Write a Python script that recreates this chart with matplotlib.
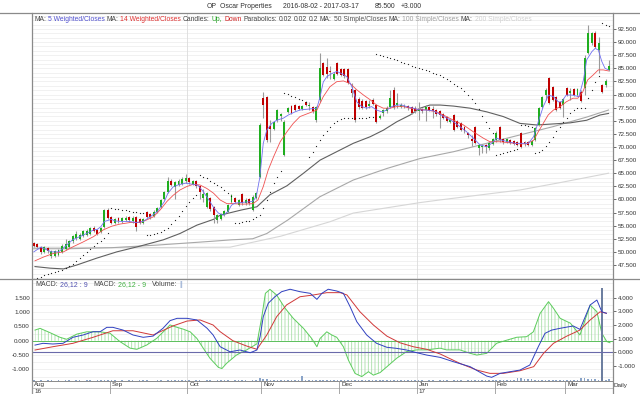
import matplotlib
matplotlib.use('Agg')
import matplotlib.pyplot as plt
from matplotlib.lines import Line2D
import numpy as np
import pandas as pd

plt.rcParams['font.family'] = ['Liberation Sans', 'DejaVu Sans']
plt.rcParams['hatch.linewidth'] = 0.6

# ---------------- data ----------------
dates = pd.bdate_range('2016-08-02', '2017-03-17')
year_labels = {'Aug': '16', 'Jan': '17'}
ticker, company = 'OP', 'Oscar Properties'

opens = [51.6, 51.5, 51.0, 50.0, 50.8, 49.2, 49.3, 49.5, 50.0, 50.5, 51.0, 52.0, 52.6, 52.5, 53.0, 53.3, 53.5, 54.6, 54.2, 53.8, 54.8, 58.0,
         56.6, 55.6, 56.4, 55.8, 56.0, 56.6, 55.9, 56.6, 56.3, 55.6, 57.6, 57.2, 56.8, 57.6, 58.5, 60.0, 61.5, 63.6, 62.3, 62.8, 63.0, 63.5,
         64.0, 63.0, 63.6, 62.5, 60.3, 58.5, 60.3, 58.5, 56.0, 56.3, 57.0, 57.6, 59.6, 60.2, 59.0, 61.0, 59.3, 60.1, 58.0, 60.3, 64.3,
         79.3, 79.5, 74.0, 73.5, 75.1, 76.0, 68.5, 76.7, 77.8, 78.0, 77.9, 77.2, 78.5, 77.8, 77.6, 75.1, 78.9, 86.0, 85.2, 84.5, 83.0, 86.0,
         84.8, 84.8, 84.8, 81.0, 80.9, 79.2, 78.8, 78.8, 77.8, 79.0, 78.0, 75.5, 76.5, 76.8, 77.6, 80.9, 78.0, 77.6, 77.7, 77.8, 77.6, 77.5,
         76.8, 77.3, 77.0, 77.6, 77.2, 77.0, 76.8, 76.3, 75.8, 74.8, 76.1, 75.0, 74.5, 73.8, 72.6, 71.6, 73.8, 69.8, 70.0, 70.3, 69.9, 70.6,
         71.3, 73.8, 71.6, 71.0, 71.4, 71.2, 71.0, 72.7, 70.9, 70.9, 70.3, 71.3, 74.2, 77.6, 79.9, 83.2, 81.4, 79.5, 78.6, 78.0,
         81.2, 80.3, 81.0, 79.9, 80.5, 81.2, 88.0, 89.8, 91.7, 88.5, 81.8, 81.8, 84.7]
highs = [51.8, 51.7, 51.2, 51.2, 51.0, 50.4, 50.3, 50.5, 51.5, 52.5, 52.2, 53.2, 54.0, 53.6, 54.1, 54.3, 54.8, 54.9, 54.4, 54.8, 58.2, 58.3,
         56.8, 56.5, 56.6, 56.6, 56.8, 56.9, 56.8, 56.9, 56.5, 56.5, 57.8, 57.4, 57.9, 58.6, 60.0, 61.7, 64.3, 63.9, 63.5, 63.9, 64.3, 64.8,
         64.2, 63.8, 63.8, 62.6, 62.0, 61.5, 60.5, 58.8, 57.3, 57.5, 58.0, 59.1, 61.0, 60.5, 60.1, 61.2, 60.2, 60.3, 60.8, 61.5, 74.5,
         80.5, 79.8, 75.1, 75.0, 77.3, 76.5, 75.2, 77.6, 78.0, 78.2, 78.1, 78.0, 78.7, 78.6, 77.8, 77.8, 87.9, 86.3, 86.9, 85.5, 84.3, 86.3,
         85.0, 85.0, 85.0, 82.2, 81.0, 79.5, 79.2, 79.0, 79.0, 79.3, 78.2, 76.3, 77.2, 77.8, 80.9, 81.5, 80.3, 78.3, 78.2, 78.0, 77.8, 77.8,
         78.6, 77.5, 78.0, 77.9, 77.8, 77.2, 77.0, 76.5, 76.0, 75.4, 76.3, 75.2, 74.7, 74.0, 72.9, 72.2, 74.0, 70.6, 70.6, 70.5, 71.0, 71.7,
         73.0, 74.0, 71.8, 71.8, 71.6, 71.4, 71.2, 72.9, 71.2, 71.1, 71.3, 73.8, 77.6, 79.7, 81.3, 83.4, 81.6, 79.7, 78.8, 79.4,
         81.4, 81.2, 81.2, 81.2, 80.9, 87.5, 93.2, 92.0, 92.2, 91.0, 82.0, 83.0, 86.5]
lows = [51.0, 50.8, 49.6, 49.8, 49.7, 48.8, 49.0, 49.2, 49.8, 50.3, 50.8, 51.6, 52.3, 52.2, 52.8, 53.0, 53.2, 53.8, 53.2, 53.6, 54.6, 56.2,
        55.3, 55.3, 55.6, 55.5, 55.8, 55.7, 55.6, 53.9, 55.3, 55.4, 56.4, 56.3, 56.6, 57.4, 58.3, 59.8, 61.3, 62.5, 60.0, 62.5, 62.8, 63.2,
        63.0, 62.8, 62.2, 60.0, 59.5, 58.3, 57.8, 55.5, 55.6, 56.0, 56.8, 57.4, 59.4, 59.3, 58.8, 59.0, 59.0, 59.0, 57.8, 60.0, 64.0,
        75.6, 71.0, 70.9, 73.3, 74.8, 75.0, 68.3, 76.5, 76.3, 76.8, 77.0, 77.0, 77.8, 77.0, 76.5, 74.8, 78.5, 83.5, 83.1, 83.0, 82.8, 83.8,
        83.5, 83.2, 82.0, 79.5, 74.8, 77.3, 77.2, 77.3, 77.5, 78.0, 74.5, 75.3, 76.0, 76.5, 77.4, 77.3, 77.5, 77.4, 77.4, 77.0, 76.3, 76.5,
        75.1, 76.5, 75.0, 76.8, 75.5, 76.0, 73.6, 75.3, 74.8, 74.6, 73.0, 73.6, 73.0, 72.7, 71.8, 70.2, 70.5, 68.4, 68.8, 68.8, 69.5, 70.3,
        71.0, 71.0, 70.6, 70.8, 70.5, 70.3, 70.1, 69.8, 70.2, 70.2, 70.1, 71.1, 74.0, 77.4, 79.0, 78.2, 78.8, 76.8, 77.2, 75.8,
        79.7, 79.0, 79.7, 79.7, 78.6, 80.0, 87.8, 89.5, 88.8, 84.1, 80.3, 81.5, 84.5]
closes = [51.2, 51.0, 50.0, 50.9, 50.2, 50.2, 50.1, 50.3, 51.2, 51.5, 52.0, 53.0, 53.5, 53.3, 53.9, 54.0, 54.6, 54.0, 53.4, 54.5, 58.0, 56.5,
          55.6, 56.2, 55.9, 56.4, 56.5, 56.0, 56.5, 54.8, 55.6, 56.2, 56.7, 56.6, 57.6, 58.4, 59.8, 61.5, 63.6, 62.8, 63.3, 63.6, 63.9, 64.0,
          63.4, 63.5, 62.5, 61.5, 61.0, 61.3, 58.2, 57.0, 57.0, 57.3, 57.8, 58.9, 60.8, 59.6, 59.8, 59.3, 59.9, 59.3, 60.5, 61.2, 74.2,
          78.0, 71.3, 73.5, 74.8, 77.0, 76.2, 74.8, 77.4, 76.5, 77.0, 77.3, 77.8, 78.0, 78.0, 76.8, 77.6, 85.0, 83.7, 84.0, 84.3, 84.0, 84.0,
          83.8, 83.5, 82.2, 80.3, 75.1, 77.6, 77.5, 77.6, 78.2, 78.2, 74.8, 76.0, 77.0, 77.5, 79.3, 77.6, 78.4, 78.0, 77.9, 77.5, 76.5, 76.8,
          77.3, 76.9, 77.6, 77.0, 76.9, 76.2, 76.1, 75.5, 75.0, 75.2, 73.2, 73.8, 73.3, 73.0, 72.3, 71.2, 70.8, 70.4, 70.2, 70.0, 70.8, 71.5,
          72.7, 71.3, 70.9, 71.6, 70.7, 70.6, 70.3, 70.0, 70.5, 70.4, 71.1, 73.6, 77.4, 79.5, 80.8, 78.4, 79.0, 77.0, 77.4, 79.2,
          79.9, 80.6, 79.9, 81.0, 78.8, 86.9, 91.7, 91.7, 89.0, 89.8, 80.5, 82.5, 85.5]

# parabolic SAR, one value per day
sar = [44.9, 45.1, 45.3, 45.5, 45.7, 45.9, 46.1, 46.3, 46.6, 46.9, 47.3, 47.7, 48.2, 48.8, 49.4, 50.0, 50.6, 51.1, 51.6, 52.1, 52.7, 53.6,
       58.3, 58.2, 58.1, 58.0, 57.9, 57.8, 57.7, 57.6, 57.5, 57.4,
       53.2, 53.3, 53.4, 53.6, 53.8, 54.1, 54.6, 55.3, 56.0, 56.9, 57.8, 58.7, 59.5, 60.2, 60.8,
       64.6, 64.3, 64.0, 63.6, 63.2, 62.8, 62.3, 61.8, 61.2, 60.6,
       55.5, 55.6, 55.7, 55.8, 55.9, 56.2, 56.6, 57.0,
       58.4, 59.9, 61.5, 63.1, 64.3, 65.5,
       80.3, 80.1, 79.8, 79.5, 79.2, 78.9, 78.6,
       68.0, 69.1, 70.2, 71.3, 72.3, 73.1, 73.9, 74.5, 75.0, 75.3, 75.5, 75.5, 75.5, 75.6, 75.6, 75.6, 75.6, 75.7, 75.7,
       87.7, 87.5, 87.3, 87.1, 86.9, 86.7, 86.5, 86.3, 86.0, 85.8, 85.5, 85.3, 85.0, 84.8, 84.6, 84.4, 84.2, 84.0, 83.7, 83.3,
       82.9, 82.5, 82.1, 81.7, 81.3, 80.7, 80.0, 79.2, 78.3, 77.2, 76.0, 74.7, 73.6, 72.7,
       68.5, 68.7, 68.9, 69.1, 69.3, 69.5, 69.7,
       74.2, 74.1, 74.0, 73.9,
       68.9, 69.1, 69.5, 70.1, 71.0, 72.0, 73.0, 73.9, 74.8, 75.6, 76.4, 77.0, 77.4, 77.4, 77.4, 79.3, 80.9, 82.3, 83.6,
       93.6, 93.3, 93.0]

# moving averages (day position, value)
wma5_t = [0, 2, 5, 7, 8, 11, 14, 17, 18, 19, 20, 22, 23, 25, 27, 29, 31, 33, 35, 37, 38, 39.5, 41, 43, 45, 46.5, 48, 49.5, 51, 52.3,
          53.7, 55, 56, 57, 60, 62, 63, 64, 65, 66, 67.4, 68.8, 70.7, 72.1, 74, 75.4, 80.2, 81.1, 82, 83, 84.4, 85.8, 87.2, 88.7,
          90.1, 91.5, 92.9, 94.3, 95.7, 97.1, 98.6, 100, 101.4, 102.8, 104.2, 105.6, 107.5, 109.4, 111.3, 113.2, 114.6, 117, 118.9,
          120.7, 122.6, 124.5, 126.4, 128.3, 129.7, 131.1, 132.6, 134.4, 136.3, 138.2, 140.1, 141.6, 142.9, 144.3, 145.8, 147.2,
          148.6, 149.5, 150.8, 152.5, 154.4, 155.7, 156.6, 158.1, 159, 159.9, 160.9, 161.8, 162.8]
wma5_v = [50.0, 50.9, 50.0, 50.0, 50.5, 52.3, 53.2, 54.2, 54.3, 54.8, 55.8, 56.2, 55.9, 55.8, 55.8, 55.6, 55.8, 56.7, 57.7, 59.6,
          61.2, 62.4, 62.8, 63.1, 62.9, 62.7, 61.5, 60.0, 58.4, 57.4, 57.0, 57.7, 58.9, 59.3, 59.5, 59.6, 60.5, 64.1, 70.7, 73.2,
          74.5, 75.1, 75.5, 76.1, 76.7, 77.05, 77.4, 79.6, 82.4, 83.4, 84.0, 84.4, 84.0, 83.4, 81.5, 78.6, 77.7, 77.4, 77.7, 77.05,
          76.7, 77.05, 77.7, 78.0, 78.0, 77.7, 77.4, 77.05, 77.05, 76.9, 76.4, 75.5, 74.8, 73.9, 72.9, 71.7, 70.4, 70.05, 70.7,
          71.7, 71.3, 71.0, 70.7, 70.7, 70.7, 72.0, 74.8, 77.7, 79.9, 79.6, 78.6, 78.6, 79.9, 79.9, 79.6, 82.8, 86.6, 88.2, 88.8,
          88.5, 86.3, 85.0, 84.7]

wma14_t = [0.35, 2.7, 5.5, 8.4, 11.2, 14.0, 16.9, 19.7, 22.1, 24.4, 27.3, 30.1, 32.0, 33.9, 35.8, 37.7, 39.5, 41.4, 43.3, 45.2,
           47.1, 49.0, 50.9, 52.8, 54.7, 56.4, 59.3, 62.1, 63.5, 65.0, 66.4, 67.9, 69.8, 71.7, 73.5, 75.4, 80.2, 82.0, 83.9, 85.8,
           87.7, 89.6, 91.5, 93.4, 95.3, 97.1, 99.0, 100.9, 102.8, 104.7, 106.6, 108.5, 111.3, 114.1, 116.0, 118.9, 121.7, 124.5,
           127.3, 129.2, 132.1, 134.9, 137.7, 139.6, 141.6, 142.9, 144.3, 145.7, 147.2, 149.1, 150.8, 152.7, 154.1, 155.5, 156.9,
           158.4, 159.9, 161.3, 162.8]
wma14_v = [48.3, 49.0, 49.7, 50.0, 51.0, 51.9, 52.9, 54.2, 54.9, 55.3, 55.6, 55.6, 56.1, 56.7, 58.0, 59.6, 60.8, 61.8, 62.45, 62.9,
           62.75, 62.1, 61.2, 59.9, 59.2, 59.2, 59.1, 59.2, 59.9, 62.45, 65.6, 68.1, 71.0, 72.9, 74.5, 75.8, 77.05, 79.6, 81.5, 82.45,
           82.6, 82.1, 80.9, 79.9, 79.0, 78.0, 77.4, 77.4, 77.7, 77.7, 77.4, 77.2, 77.05, 76.7, 76.1, 75.1, 74.2, 72.9, 71.7, 71.0,
           71.0, 70.8, 70.6, 70.6, 71.3, 72.9, 74.5, 76.1, 77.05, 77.7, 78.6, 79.3, 79.3, 80.5, 82.8, 83.7, 84.7, 84.7, 84.5]

sma50_t = [0.35, 4.6, 8.4, 12.2, 17.8, 23.5, 30.1, 36.7, 41.4, 46.2, 50.9, 52.8, 58.9, 63.2, 66.9, 71.7, 76.4, 81.1, 85.8, 90.5,
           95.3, 99.0, 102.8, 106.6, 109.4, 112.2, 115.1, 118.9, 123.6, 128.3, 133.0, 137.7, 142.5, 147.2, 151.9, 156.6, 160.4, 162.8]
sma50_v = [47.2, 46.9, 46.75, 47.5, 48.8, 50.0, 51.1, 52.3, 53.5, 55.1, 56.2, 57.0, 58.0, 58.6, 60.9, 62.6, 65.0, 67.5, 69.1, 70.7,
           71.96, 73.2, 74.8, 76.1, 77.4, 78.0, 78.0, 77.8, 77.4, 76.7, 75.8, 74.5, 74.2, 74.4, 74.6, 75.1, 76.1, 76.4]

sma100_t = [0, 10, 22, 35, 50, 56, 62, 66, 72, 81, 90.5, 100, 109.4, 118.9, 128.3, 137.7, 147.2, 156.6, 162.8]
sma100_v = [50.6, 50.6, 50.8, 51.3, 52.0, 52.3, 52.5, 53.5, 56.1, 60.5, 63.7, 65.9, 67.8, 69.1, 70.7, 72.3, 73.9, 75.7, 77.05]

sma200_t = [0, 30, 55.6, 70, 83.9, 90.5, 109.4, 115, 137.7, 149, 162.8]
sma200_v = [50.9, 50.8, 50.9, 53.0, 55.75, 57.4, 59.4, 59.9, 61.8, 63.2, 65.0]

# MACD lines (right scale) and histogram (left scale)
macd_t = [0.35, 2.6, 5.4, 8.3, 11.1, 14.0, 16.8, 18.8, 20.7, 22.4, 25.3, 28.1, 31.0, 33.8, 36.6, 38.6, 40.6, 43.4, 46.2, 49.1,
          50.8, 52.2, 52.8, 55.6, 58.4, 61.3, 63.2, 64.1, 65.0, 66.4, 68.3, 70.2, 72.6, 75.4, 78.3, 80.2, 81.6, 83.4, 85.8, 87.7,
          89.6, 91.5, 94.3, 97.1, 100.0, 102.8, 105.6, 108.5, 111.3, 115.1, 118.9, 123.6, 128.3, 129.7, 132.1, 134.9, 137.7, 140.5,
          142.9, 144.8, 146.7, 149.1, 152.8, 154.7, 157.6, 159.5, 160.9, 162.2]
macd_v = [0.53, 0.66, 0.61, 0.66, 1.10, 1.27, 1.51, 1.51, 1.83, 1.83, 1.63, 1.27, 1.10, 1.19, 1.76, 2.32, 2.49, 2.49, 2.37, 1.76,
          1.27, 0.66, 0.41, 0.04, 0.17, -0.03, 0.17, 1.14, 2.61, 3.59, 4.07, 4.44, 4.62, 4.44, 4.32, 3.88, 4.32, 4.62, 4.49, 4.32,
          3.34, 2.24, 1.27, 0.66, 0.37, 0.29, 0.17, -0.03, -0.20, -0.37, -0.69, -1.05, -1.74, -1.83, -1.54, -1.42, -1.30, -0.93,
          0.41, 1.39, 1.63, 1.76, 1.93, 1.68, 3.47, 3.83, 2.97, 2.86]
signal_t = [0.35, 5.4, 11.1, 16.8, 22.4, 28.1, 33.8, 39.4, 43.4, 47.1, 50.8, 52.8, 56.4, 60.3, 63.2, 66.0, 68.8, 71.6, 75.4, 79.2,
            83.0, 86.8, 88.7, 92.4, 96.2, 100.0, 103.7, 107.5, 111.3, 115.1, 120.7, 125.5, 129.2, 133.0, 137.7, 141.6, 144.4, 147.2,
            151.0, 154.7, 157.6, 160.4, 162.2]
signal_v = [0.17, 0.41, 0.66, 1.10, 1.58, 1.58, 1.27, 1.93, 2.29, 2.37, 2.00, 1.51, 0.85, 0.46, 0.22, 1.27, 2.61, 3.47, 4.07, 4.20,
            4.37, 4.37, 4.20, 2.97, 2.00, 1.19, 0.70, 0.41, 0.22, -0.12, -0.81, -1.30, -1.54, -1.54, -1.35, -1.05, -0.07, 0.66,
            1.19, 1.63, 2.37, 2.97, 2.86]
hist_t = [0.35, 1.8, 4.6, 7.4, 9.3, 12.2, 15.0, 18.8, 21.6, 24.4, 27.3, 29.2, 32.0, 34.8, 36.7, 38.6, 40.5, 42.4, 44.3, 46.2, 48.0,
          49.9, 52.3, 53.3, 54.6, 57.4, 60.3, 63.2, 64.6, 65.6, 66.9, 68.8, 71.2, 73.5, 76.4, 78.7, 80.2, 81.1, 83.0, 84.4, 85.8,
          87.7, 89.1, 91.0, 92.9, 94.8, 96.2, 98.1, 100.0, 102.8, 105.6, 108.5, 111.3, 115.1, 116.9, 120.7, 123.6, 125.5, 128.3,
          131.1, 134.0, 136.8, 139.6, 141.5, 143.4, 145.8, 147.2, 149.1, 152.0, 154.7, 157.6, 159.5, 160.9, 162.3, 163.2]
hist_v = [0.37, 0.43, 0.28, 0.12, 0.05, 0.23, 0.31, 0.31, 0.26, -0.03, -0.26, -0.30, -0.15, 0.08, 0.31, 0.55, 0.47, 0.40, 0.31,
          0.08, -0.26, -0.61, -0.93, -0.97, -0.79, -0.50, -0.32, -0.11, 0.84, 1.65, 1.79, 1.59, 1.13, 0.78, 0.43, 0.08, -0.21,
          0.08, 0.31, 0.20, 0.12, -0.21, -0.67, -1.14, -1.25, -1.08, -1.20, -1.11, -0.91, -0.61, -0.38, -0.32, -0.32, -0.26,
          -0.32, -0.32, -0.44, -0.50, -0.44, -0.09, 0.02, 0.12, 0.14, 0.31, 0.95, 1.36, 1.13, 0.78, 0.61, 0.20, 1.24, 1.01, 0.26,
          -0.03, -0.07]

volume = [30, 0, 30, 0, 30, 30, 0, 30, 0, 30, 30, 0, 30, 30, 0, 30, 30, 0, 30, 30, 45, 30,
          30, 30, 0, 30, 0, 30, 30, 0, 30, 30, 30, 0, 0, 30, 30, 0, 30, 30, 30, 40, 40, 30,
          30, 0, 30, 30, 0, 30, 30, 0, 30, 30, 30, 30, 0, 30, 30, 30, 30, 0, 30, 30, 105,
          60, 60, 45, 45, 45, 45, 45, 30, 30, 30, 30, 150, 45, 45, 45, 30, 30, 30, 30, 30, 30, 30,
          30, 30, 30, 30, 30, 30, 30, 30, 30, 30, 30, 30, 30, 30, 30, 30, 30, 30, 30, 30, 30, 30,
          30, 30, 0, 30, 30, 0, 30, 30, 30, 0, 30, 30, 30, 0, 30, 30, 30, 30, 30, 30, 30, 30,
          30, 30, 30, 30, 30, 30, 105, 105, 75, 75, 75, 45, 45, 45, 45, 45, 45, 45, 45, 45,
          30, 30, 30, 45, 105, 105, 60, 60, 60, 45, 2790, 30, 75]

last_close, change = 85.5, 3.0

# ---------------- figure ----------------
W, H = 640, 394
fig = plt.figure(figsize=(W / 100, H / 100), dpi=100, facecolor='white')
renderer = fig.canvas.get_renderer()


def fx(x):
    return x / W


def fy(y):
    return 1 - y / H


def text_w(s, size):
    tt = fig.text(0.3, 0.5, s, fontsize=size)
    w = tt.get_window_extent(renderer).width
    tt.remove()
    return w


def seq_text(pieces, x0, x1, y, base=5.0):
    """Place coloured pieces one after another, fitted to span x0..x1 (pixels)."""
    gaps = [g for _, _, g in pieces]
    size = base
    for _ in range(5):
        sp = (text_w('a a', size) - text_w('aa', size))
        total = sum(text_w(s, size) for s, _, _ in pieces) + sp * sum(gaps[:-1])
        size *= (x1 - x0) / total
    sp = text_w('a a', size) - text_w('aa', size)
    x = x0
    for s, col, g in pieces:
        fig.text(fx(x), fy(y), s, fontsize=size, color=col, va='center', ha='left')
        x += text_w(s, size) + sp * g


L, R = 32, 612.6
ax = fig.add_axes([fx(L), fy(279), (R - L) / W, (279 - 13) / H])
axm = fig.add_axes([fx(L), fy(381), (R - L) / W, (381 - 279) / H])

n = len(dates)
t = np.arange(n)
xlim = (-0.5, 163.95)
month_starts = [i for i in range(n) if i == 0 or dates[i].month != dates[i - 1].month]

GREEN, RED = '#1fae1f', '#c00000'
o, h, l, c = map(np.array, (opens, highs, lows, closes))

# main panel
ax.set_xlim(*xlim)
ax.set_ylim(44.83, 95.55)
for yv in np.arange(45.0, 95.6, 2.5 / 3):
    ax.axhline(yv, color='#ececec', lw=0.5, zorder=0)
for ms in month_starts:
    if dates[ms].month in (10, 1):
        ax.axvline(ms - 0.5, color='#dcdcdc', lw=0.6, zorder=0)

ax.plot(sma200_t, sma200_v, color='#d6d6d6', lw=0.8, zorder=1)
ax.plot(sma100_t, sma100_v, color='#a8a8a8', lw=0.8, zorder=1)
ax.plot(sma50_t, sma50_v, color='#606060', lw=0.8, zorder=1)

ax.vlines(t, l, h, color='#9a9a9a', lw=0.8, zorder=2)
up = c >= o
ax.bar(t[up], (c - o)[up], bottom=o[up], width=0.55, color=GREEN, zorder=3)
ax.bar(t[~up], (o - c)[~up], bottom=c[~up], width=0.55, color=RED, zorder=3)

ax.plot(wma14_t, wma14_v, color='#f05050', lw=0.6, zorder=4)
ax.plot(wma5_t, wma5_v, color='#7070f0', lw=0.6, zorder=4)
ax.plot(t, sar, ls='none', marker='o', ms=0.9, mew=0, color='#202020', zorder=5)

ax.yaxis.tick_right()
ax.set_yticks(np.arange(47.5, 93, 2.5))
ax.set_yticklabels([f'{v:.3f}' for v in np.arange(47.5, 93, 2.5)])
ax.tick_params(axis='y', labelsize=4.5, length=2, width=0.5, pad=1.5, colors='#333333')
ax.set_xticks([])
for s in ax.spines.values():
    s.set_visible(False)

# MACD panel
axm.set_xlim(*xlim)
axm.set_ylim(-1.404, 2.15)
for yv in np.arange(-1.25, 2.1, 0.25):
    axm.axhline(yv, color='#ececec', lw=0.5, zorder=0)
for ms in month_starts:
    if dates[ms].month in (10, 1):
        axm.axvline(ms - 0.5, color='#dcdcdc', lw=0.6, zorder=0)
axm.fill_between(hist_t, 0, hist_v, facecolor='none', edgecolor='#a6dfa6', hatch='|||||', lw=0, zorder=1)
axm.plot(hist_t, hist_v, color='#5ccc5c', lw=0.7, zorder=2)
axm.axhline(0, color='#5cbf5c', lw=0.7, zorder=2)
axm.set_yticks([-1.0, -0.5, 0.0, 0.5, 1.0, 1.5])
axm.set_yticklabels([f'{v:.3f}' for v in [-1.0, -0.5, 0.0, 0.5, 1.0, 1.5]])
axm.tick_params(axis='y', labelsize=4.5, length=0, pad=1.5, colors='#333333')
axm.set_xticks([])

axv = axm.twinx()
axv.set_xlim(*xlim)
axv.set_ylim(0, 3060)
vol = np.array(volume)
axv.bar(t, vol, width=0.45, color=np.where(vol > 1000, '#6d7fa0', '#8aa4c8'), zorder=1)
axv.set_yticks([])

axr = axm.twinx()
axr.set_xlim(*xlim)
axr.set_ylim(-2.10, 5.37)
axr.axhline(0, color='#6a6aaa', lw=0.8)
axr.plot(signal_t, signal_v, color='#d03838', lw=0.7)
axr.plot(macd_t, macd_v, color='#3040c0', lw=0.7)
axr.set_yticks([-1, 0, 1, 2, 3, 4])
axr.set_yticklabels([f'{v:.3f}' for v in [-1, 0, 1, 2, 3, 4]])
axr.tick_params(axis='y', labelsize=4.5, length=2, width=0.5, pad=1.5, colors='#333333')
for a in (axm, axv, axr):
    for s in a.spines.values():
        s.set_visible(False)

# frame lines
BC = '#8a8a8a'


def hline(y, x0, x1, col=BC, lw=0.9):
    fig.add_artist(Line2D([fx(x0), fx(x1)], [fy(y), fy(y)], color=col, lw=lw))


def vline(x, y0, y1, col=BC, lw=0.9):
    fig.add_artist(Line2D([fx(x), fx(x)], [fy(y0), fy(y1)], color=col, lw=lw))


hline(13, 0, 640)
hline(279, 0, 640)
hline(381, L, R, lw=0.7)
hline(388, L, R, col='#aaaaaa', lw=0.5)
vline(L, 13, 394)
vline(R, 13, 394)

# month strip
x_per_day = (R - L) / (xlim[1] - xlim[0])
for ms in month_starts:
    xm = L + (ms - 0.5 - xlim[0]) * x_per_day
    vline(xm, 381, 394, col='#9a9a9a', lw=0.6)
    lab = dates[ms].strftime('%b')
    fig.text(fx(xm + 2), fy(384.6), lab, fontsize=4.5, color='#333333', va='center', ha='left')
    if lab in year_labels:
        fig.text(fx(xm + 2), fy(391.3), year_labels[lab], fontsize=4.5, color='#333333', va='center', ha='left')
fig.text(fx(614), fy(386), 'Daily', fontsize=4.5, color='#333333', va='center', ha='left')

# title
TC = '#333333'
seq_text([(ticker, TC, 2), (company, TC, 6),
          (f'{dates[0]:%Y-%m-%d} - {dates[-1]:%Y-%m-%d}', TC, 8),
          (f'{last_close:.3f}', TC, 3), (f'+{change:.3f}', TC, 0)], 206.7, 424, 7)

# legend line
DK = '#444444'
seq_text([('MA:', DK, 1), ('5 Weighted/Closes', '#5050d0', 1), ('MA:', DK, 1),
          ('14 Weighted/Closes', '#e03030', 1), ('Candles:', DK, 1), ('Up,', '#20a020', 1),
          ('Down', '#d02020', 1), ('Parabolics:', DK, 1), ('0.02', DK, 1), ('0.02', DK, 1), ('0.2', DK, 1),
          ('MA:', DK, 1), ('50 Simple/Closes', '#555555', 1), ('MA:', DK, 1),
          ('100 Simple/Closes', '#a0a0a0', 1), ('MA:', DK, 1), ('200 Simple/Closes', '#d0d0d0', 0)],
         34.3, 532, 19.5)

seq_text([('MACD:', DK, 1), ('26,12 : 9', '#5050b0', 3), ('MACD:', DK, 1),
          ('26,12 - 9', '#40b040', 3), ('Volume:', DK, 1), ('||', '#90a8d0', 0)],
         35, 181, 284.5)

fig.savefig('out.png', dpi=100, facecolor='white')
